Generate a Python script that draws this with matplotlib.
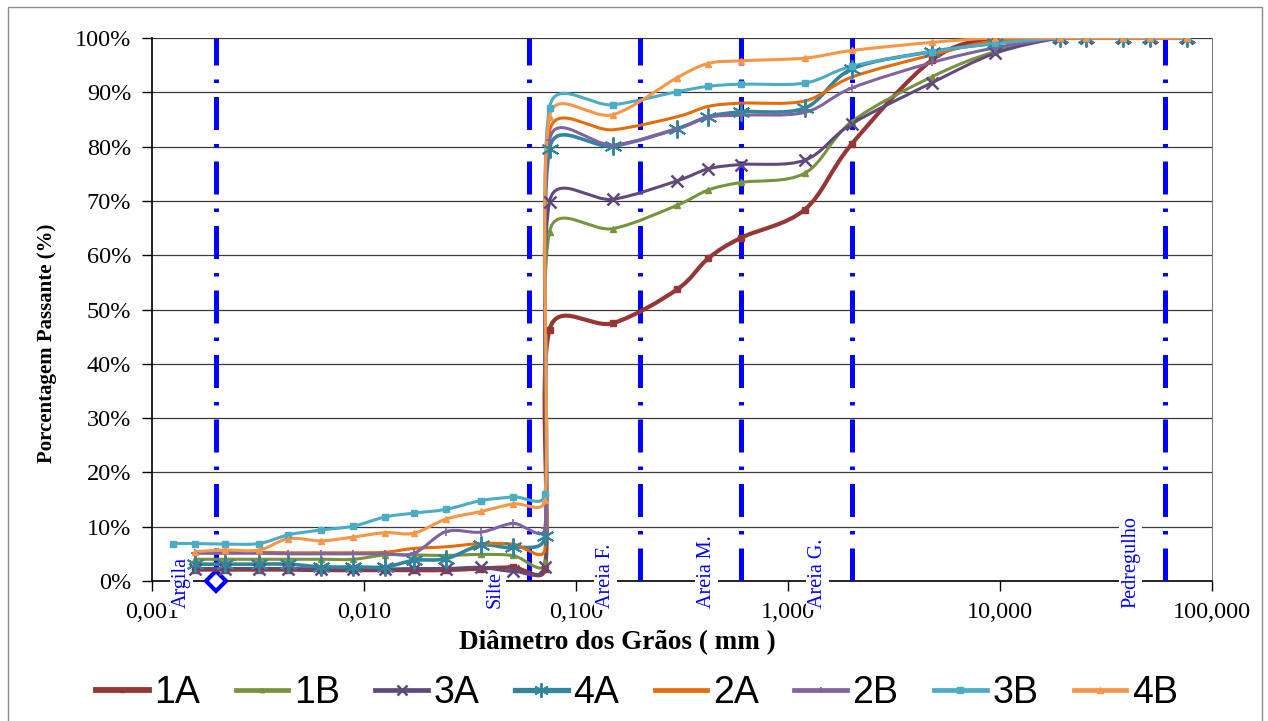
import matplotlib

matplotlib.use("Agg")
import matplotlib.pyplot as plt  # noqa: E402
import numpy as np  # noqa: E402
from matplotlib.lines import Line2D  # noqa: E402
from matplotlib.patches import PathPatch, Rectangle  # noqa: E402
from matplotlib.path import Path  # noqa: E402
from matplotlib.ticker import FixedFormatter, FixedLocator, NullLocator  # noqa: E402
from matplotlib.transforms import blended_transform_factory  # noqa: E402

# grain sizes (mm): hydrometer part then sieves
SED_MM = [0.0016, 0.0022, 0.0032, 0.0044, 0.0063, 0.0089, 0.0126, 0.0172, 0.0244, 0.0356, 0.0504, 0.0714]
SED_MM_3B = [0.00126, 0.0016, 0.0022, 0.0032, 0.0044, 0.0063, 0.0089, 0.0126, 0.0172, 0.0244, 0.0356, 0.0504, 0.0714]
SIEVE_MM = [0.075, 0.15, 0.3, 0.42, 0.6, 1.2, 2.0, 4.8, 9.5, 19.1, 25.4, 38.1, 50.8, 76.2]

# % passing per sample
P_1A = [2.1, 2.1, 2.1, 2.1, 2.0, 2.0, 2.0, 2.0, 2.0, 2.3, 2.5, 2.3,
        46.3, 47.5, 53.7, 59.4, 63.2, 68.4, 80.5, 96.0, 100, 100, 100, 100, 100, 100]
P_1B = [4.0, 4.0, 4.0, 4.0, 4.0, 4.0, 4.8, 4.8, 4.7, 4.9, 4.7, 3.5,
        64.3, 64.9, 69.2, 72.0, 73.4, 75.1, 84.6, 92.9, 97.5, 100, 100, 100, 100, 100]
P_3A = [2.3, 2.3, 2.3, 2.3, 2.2, 2.2, 2.2, 2.3, 2.3, 2.5, 1.8, 2.6,
        69.8, 70.3, 73.7, 75.9, 76.7, 77.5, 84.2, 91.8, 97.2, 100, 100, 100, 100, 100]
P_4A = [3.1, 3.1, 3.1, 3.1, 2.6, 2.6, 2.6, 3.8, 4.1, 6.6, 6.2, 8.3,
        79.6, 80.1, 83.3, 85.5, 86.4, 87.1, 94.3, 97.5, 99.0, 100, 100, 100, 100, 100]
P_2A = [5.3, 5.3, 5.3, 5.2, 5.2, 5.2, 5.3, 6.0, 6.3, 6.9, 6.8, 6.0,
        82.7, 83.1, 85.5, 87.4, 88.0, 88.4, 92.8, 96.9, 99.5, 100, 100, 100, 100, 100]
P_2B = [5.1, 5.1, 5.1, 5.0, 5.0, 5.0, 5.0, 5.1, 9.1, 9.0, 10.6, 9.8,
        81.2, 80.3, 83.3, 85.4, 85.8, 86.3, 90.8, 95.5, 98.2, 100, 100, 100, 100, 100]
P_3B = [6.9, 6.9, 6.8, 6.9, 8.5, 9.4, 10.1, 11.8, 12.5, 13.2, 14.8, 15.5, 16.1,
        87.2, 87.7, 90.1, 91.1, 91.5, 91.7, 94.8, 97.5, 99.0, 100, 100, 100, 100, 100]
P_4B = [5.4, 5.7, 5.7, 7.8, 7.4, 8.1, 8.9, 8.8, 11.4, 12.8, 14.2, 15.0,
        85.5, 85.9, 92.7, 95.3, 95.8, 96.3, 97.7, 99.2, 100, 100, 100, 100, 100, 100]

SAMPLES = ["1A", "1B", "3A", "4A", "2A", "2B", "3B", "4B"]
COLORS = ["#953735", "#77933C", "#604A7B", "#31859C", "#E46C0A", "#8064A2", "#4BACC6", "#F79646"]

# soil class boundaries (mm) and labels
BOUNDARY_MM = [0.002, 0.06, 0.2, 0.6, 2.0, 60]
CLASS_LABELS = ["Argila", "Silte", "Areia F.", "Areia M.", "Areia G.", "Pedregulho"]

XTICKS = [0.001, 0.01, 0.1, 1, 10, 100]
XTICK_LABELS = ["0,001", "0,010", "0,100", "1,000", "10,000", "100,000"]
YTICKS = list(range(0, 101, 10))

SERIF = "Liberation Serif"
SANS = "Liberation Sans"


def smooth_path(ax, x, y, cap=0.5):
    """Excel-like smoothed line: cubic Bezier built in display space,
    control arms = 1/6 of the neighbour chord, capped to a share of the segment."""
    pts = ax.transData.transform(np.column_stack([x, y]))
    n = len(pts)
    verts = [pts[0]]
    codes = [Path.MOVETO]
    for i in range(n - 1):
        p0, p1 = pts[i], pts[i + 1]
        seg = np.hypot(*(p1 - p0))
        a = (pts[i + 1] - pts[max(i - 1, 0)]) / 6
        b = (pts[min(i + 2, n - 1)] - pts[i]) / 6
        for arm in (a, b):
            ln = np.hypot(*arm)
            if ln > cap * seg and ln > 0:
                arm *= cap * seg / ln
        verts += [p0 + a, p1 - b, p1]
        codes += [Path.CURVE4] * 3
    data_verts = ax.transData.inverted().transform(np.array(verts))
    return Path(data_verts, codes)


series = [
    (SED_MM + SIEVE_MM, P_1A),
    (SED_MM + SIEVE_MM, P_1B),
    (SED_MM + SIEVE_MM, P_3A),
    (SED_MM + SIEVE_MM, P_4A),
    (SED_MM + SIEVE_MM, P_2A),
    (SED_MM + SIEVE_MM, P_2B),
    (SED_MM_3B + SIEVE_MM, P_3B),
    (SED_MM + SIEVE_MM, P_4B),
]
styles = [
    dict(lw=3.0, marker="s", ms=4, mew=1),
    dict(lw=2.2, marker="^", ms=4, mew=1),
    dict(lw=2.2, marker="x", ms=9, mew=1.8),
    dict(lw=2.6, marker=(6, 2, 0), ms=13, mew=1.4),
    dict(lw=2.2, marker=None, ms=0, mew=0),
    dict(lw=2.2, marker="+", ms=6, mew=1.2),
    dict(lw=2.2, marker="s", ms=5, mew=1),
    dict(lw=2.2, marker="^", ms=5, mew=1),
]

W, H = 1268, 721
fig = plt.figure(figsize=(W / 100, H / 100), dpi=100)
ax = fig.add_axes([152 / W, 1 - 581 / H, (1212 - 152) / W, (581 - 38) / H])

ax.set_xscale("log")
ax.set_xlim(0.001, 100)
ax.set_ylim(0, 100)

# horizontal grid
for yv in YTICKS[1:]:
    ax.axhline(yv, color="#3a3a3a", lw=0.9, zorder=0.5)

# class boundaries
for b in BOUNDARY_MM:
    ax.plot([b, b], [0, 100], color="#0000FF", lw=3.6, solid_capstyle="butt",
            dash_capstyle="butt", dashes=(6.6, 2.8, 0.7, 2.8), zorder=3)
ax.plot([BOUNDARY_MM[0]], [0], marker="D", ms=10, mfc="white", mec="#0000FF", mew=3,
        ls="none", clip_on=False, zorder=3.5)

# labels of classes, left of each boundary
tr = blended_transform_factory(ax.transData, ax.transAxes)
for b, lab in zip(BOUNDARY_MM, CLASS_LABELS):
    ax.text(b / 1.45, -0.05, lab, rotation=90, ha="center", va="bottom", transform=tr,
            color="#0000FF", fontsize=14.5, family=SERIF, zorder=2.7, clip_on=False,
            bbox=dict(facecolor="white", edgecolor="none", pad=1.5))

# samples
handles = []
for (xs, ys), name, c, st in zip(series, SAMPLES, COLORS, styles):
    ax.add_patch(PathPatch(smooth_path(ax, xs, ys), fill=False, edgecolor=c, lw=st["lw"],
                           capstyle="round", joinstyle="round", zorder=4))
    if st["marker"] is not None:
        ax.plot(xs, ys, ls="none", marker=st["marker"], ms=st["ms"], mew=st["mew"],
                color=c, zorder=4.1)
    handles.append(Line2D([], [], color=c, lw=st["lw"] + 1.2, marker=st["marker"],
                          ms=st["ms"] * 0.8, mew=st["mew"]))

# axes look
ax.xaxis.set_major_locator(FixedLocator(XTICKS))
ax.xaxis.set_major_formatter(FixedFormatter(XTICK_LABELS))
ax.xaxis.set_minor_locator(NullLocator())
ax.set_yticks(YTICKS)
ax.set_yticklabels([f"{v}%" for v in YTICKS])
ax.tick_params(axis="both", direction="out", length=7, width=1, labelsize=17.5, pad=8)
for lab in ax.get_xticklabels() + ax.get_yticklabels():
    lab.set_family(SERIF)
ax.spines["top"].set_visible(False)
ax.spines["right"].set_color("#7f7f7f")
ax.spines["left"].set_linewidth(1.2)
ax.spines["bottom"].set_linewidth(1.2)
ax.spines["left"].set_zorder(2.6)
ax.spines["bottom"].set_zorder(2.6)

fig.text(617 / W, 1 - 643 / H, "Diâmetro dos Grãos ( mm )", ha="center", va="center",
         fontsize=19.5, fontweight="bold", family=SERIF)
fig.text(47 / W, 1 - 343 / H, "Porcentagem Passante (%)", ha="center", va="center",
         rotation=90, fontsize=15, fontweight="bold", family=SERIF)

fig.legend(handles, SAMPLES, loc="center", bbox_to_anchor=(637 / W, 1 - 693 / H), ncol=8,
           frameon=False, prop={"family": SANS, "size": 27}, handlelength=1.4,
           handletextpad=0.15, columnspacing=0.95, borderaxespad=0)

# chart area border
fig.add_artist(Rectangle((8 / W, -0.01), (1262 - 8) / W, 1 - 7 / H + 0.01, transform=fig.transFigure,
                         fill=False, edgecolor="#8c8c8c", lw=1.0))

fig.savefig("out.png", dpi=100)
